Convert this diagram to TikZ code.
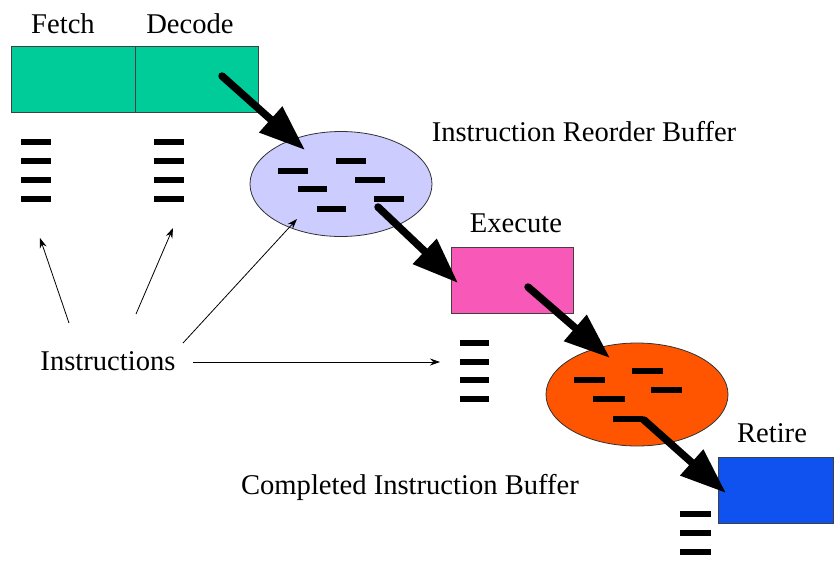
\documentclass[tikz,border=0pt]{standalone}
\usepackage{fontspec}
\setmainfont{Liberation Serif}
\usetikzlibrary{arrows.meta,shapes.geometric}
\definecolor{stagegreen}{RGB}{0,204,153}
\definecolor{robfill}{RGB}{204,204,255}
\definecolor{execpink}{RGB}{248,88,184}
\definecolor{cibfill}{RGB}{255,85,0}
\definecolor{retireblue}{RGB}{16,82,240}
\newcommand\ibar[3]{\fill[black] (#1,#3-3) rectangle (#2,#3+3);}
\begin{document}
\begin{tikzpicture}[x=1pt,y=-1pt,
  lbl/.style={font=\fontsize{28.6}{32}\selectfont, inner sep=0pt, anchor=base},
  stagebox/.style={draw=black!75, line width=0.8pt, inner sep=0pt, minimum height=66pt},
  buf/.style={ellipse, draw=black!80, line width=0.8pt, inner sep=0pt},
  bigarrow/.style={line width=7.5pt, line cap=round, -{Triangle[length=46pt,width=33pt]}},
  thinarrow/.style={line width=0.8pt, -{Stealth[length=10pt,width=7pt]}}]
\useasboundingbox (0,0) rectangle (835,568);
\fill[white] (0,0) rectangle (835,568);

% stages
\node[stagebox, fill=stagegreen, minimum width=124pt] (fetch) at (73,79) {};
\node[stagebox, fill=stagegreen, minimum width=123pt] (decode) at (196.5,79) {};
\node[stagebox, fill=execpink, minimum width=122pt] (execute) at (512,280) {};
\node[stagebox, fill=retireblue, minimum width=115pt] (retire) at (775.5,490) {};

\node[buf, fill=robfill, minimum width=182pt, minimum height=105pt] (rob) at (341,184) {};
\node[buf, fill=cibfill, minimum width=182pt, minimum height=103pt] (cib) at (637,394.5) {};

% labels
\node[lbl] (tfetch) at (63,33) {Fetch};
\node[lbl] (tdecode) at (190,33) {Decode};
\node[lbl] (trob) at (584,141) {Instruction Reorder Buffer};
\node[lbl] (texec) at (516,232) {Execute};
\node[lbl] (tretire) at (772,442) {Retire};
\node[lbl] (tcib) at (410,494) {Completed Instruction Buffer};
\node[lbl] (tinstr) at (108,370) {Instructions};

% instruction bars
\foreach \y in {142,161,180,199} {\ibar{21}{51}{\y}\ibar{154}{184}{\y}}
\foreach \y in {343,362,380,399} {\ibar{460}{489}{\y}}
\foreach \y in {514,533,552} {\ibar{680}{711}{\y}}
\ibar{278}{308}{171}\ibar{336}{366}{161}\ibar{355}{385}{180}
\ibar{298}{327}{189}\ibar{374}{404}{199}\ibar{317}{346}{209}
\ibar{574}{605}{380}\ibar{632}{663}{371}\ibar{651}{682}{390}
\ibar{593}{625}{399}\ibar{613}{643}{419}

% flow arrows
\coordinate (s1) at (222,76);   \coordinate (e1) at (305,150);
\coordinate (s2) at (378,207);  \coordinate (e2) at (458,283);
\coordinate (s3) at (528,287);  \coordinate (e3) at (610,358);
\coordinate (s4) at (644,420);  \coordinate (e4) at (726,493);
\draw[bigarrow] (s1) -- (e1);
\draw[bigarrow] (s2) -- (e2);
\draw[bigarrow] (s3) -- (e3);
\draw[bigarrow] (s4) -- (e4);

% instruction pointers
\coordinate (ia) at (69,323);  \coordinate (ta) at (40,238);
\coordinate (ib) at (136,314); \coordinate (tb) at (173,228);
\coordinate (ic) at (183,343); \coordinate (tc) at (297,219);
\coordinate (id) at (193,362); \coordinate (td) at (440,362);
\draw[thinarrow] (ia) -- (ta);
\draw[thinarrow] (ib) -- (tb);
\draw[thinarrow] (ic) -- (tc);
\draw[thinarrow] (id) -- (td);
\end{tikzpicture}
\end{document}
